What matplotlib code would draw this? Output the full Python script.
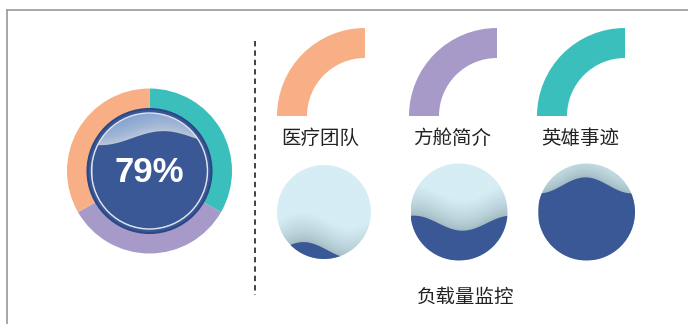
import numpy as np
import matplotlib
matplotlib.use("Agg")
import matplotlib.pyplot as plt
from matplotlib.patches import Circle, Wedge

plt.rcParams["font.family"] = ["Noto Sans CJK SC", "DejaVu Sans"]

# data
ring_shares = [1, 1, 1]
ring_colors = ["#3bbfbd", "#a79ac9", "#f8af85"]
overall_level = 0.79
overall_text = "79%"

menu_labels = ["医疗团队", "方舱简介", "英雄事迹"]
menu_colors = ["#f8af85", "#a79ac9", "#3bbfbd"]

tank_levels = [0.10, 0.39, 0.78]
tank_title = "负载量监控"

W, H = 688, 324
DARK_BLUE = "#3a5896"


def Y(y):
    # pixel row -> axis y (y axis points up)
    return H - y


def wave_image(ax, cx, cy, r, level, amp, period, crest_dx, clip,
               near, far, spread):
    xs = np.linspace(cx - r, cx + r, 200)
    mean = cy - r + level * 2 * r
    wave = mean + amp * np.cos(2 * np.pi * (xs - (cx + crest_dx)) / period)

    gy = np.linspace(cy - r, cy + r, 200)
    gx, gyy = np.meshgrid(xs, gy)
    gw = mean + amp * np.cos(2 * np.pi * (gx - (cx + crest_dx)) / period)
    t = np.clip((gyy - gw) / spread, 0, 1) ** 0.7
    near = np.array(matplotlib.colors.to_rgb(near))
    far = np.array(matplotlib.colors.to_rgb(far))
    img = near[None, None, :] + (far - near)[None, None, :] * t[..., None]
    im = ax.imshow(img, extent=(cx - r, cx + r, cy - r, cy + r),
                   origin="lower", interpolation="bilinear", zorder=3)
    im.set_clip_path(clip)

    body = ax.fill_between(xs, cy - r - 2, wave, color=DARK_BLUE,
                           linewidth=0, zorder=4)
    body.set_clip_path(clip)


fig = plt.figure(figsize=(W / 100, H / 100), dpi=100)
ax = fig.add_axes([0, 0, 1, 1])

# frame (top and left edges visible)
ax.plot([7, W], [Y(9.5), Y(9.5)], color="#a0a0a0", lw=1.3, zorder=1)
ax.plot([7, 7], [Y(9.5), 0], color="#a0a0a0", lw=1.3, zorder=1)

# overall donut
cx, cy = 149.5, Y(171)
ax.pie(ring_shares, colors=ring_colors, radius=82.5, center=(cx, cy),
       startangle=90, counterclock=False,
       wedgeprops=dict(width=21, linewidth=0), frame=True)

ax.add_patch(Circle((cx, cy), 62, facecolor=DARK_BLUE,
                    edgecolor="#2c4785", lw=1.5, zorder=2))
clip = Circle((cx, cy), 57.5, transform=ax.transData)
wave_image(ax, cx, cy, 57.5, overall_level, 7, 125, 13.5, clip,
           near="#b9c6d8", far="#7f9fd2", spread=25)
ax.add_patch(Circle((cx, cy), 58, facecolor="none", edgecolor="white",
                    lw=1.0, alpha=0.85, zorder=5))
ax.text(cx, cy - 1, overall_text, color="white", fontsize=25,
        fontweight="bold", family=["Liberation Sans", "DejaVu Sans"],
        ha="center", va="center", zorder=6)

# divider
ax.plot([255, 255], [Y(41), Y(295)], color="#333333", lw=1.3,
        linestyle=(0, (3, 2.2)), zorder=1)

# menu arcs
arc_x = [365, 497, 625]
for x, label, color in zip(arc_x, menu_labels, menu_colors):
    ax.add_patch(Wedge((x, Y(116)), 88, 90, 180, width=30,
                       facecolor=color, linewidth=0, zorder=2))
    ax.text(x - 45, Y(138), label, fontsize=14, color="#222222",
            ha="center", va="center", zorder=6)

# load tanks
tank_x = [324, 459, 586.5]
tank_r = [47, 48.5, 48.5]
tank_wave = [(8, 95, -21), (7.5, 97, -45.5), (8, 92, -1.5)]
for x, r, level, (amp, period, dx) in zip(tank_x, tank_r, tank_levels,
                                         tank_wave):
    c = Circle((x, Y(212)), r, transform=ax.transData)
    wave_image(ax, x, Y(212), r, level, amp, period, dx, c,
               near="#a3bcc4", far="#d6edf5", spread=30)

ax.text(466, Y(297.5), tank_title, fontsize=14, color="#222222",
        ha="center", va="center", zorder=6)

ax.set_xlim(0, W)
ax.set_ylim(0, H)
ax.set_aspect("equal")
ax.axis("off")

fig.savefig("out.png", dpi=100)
